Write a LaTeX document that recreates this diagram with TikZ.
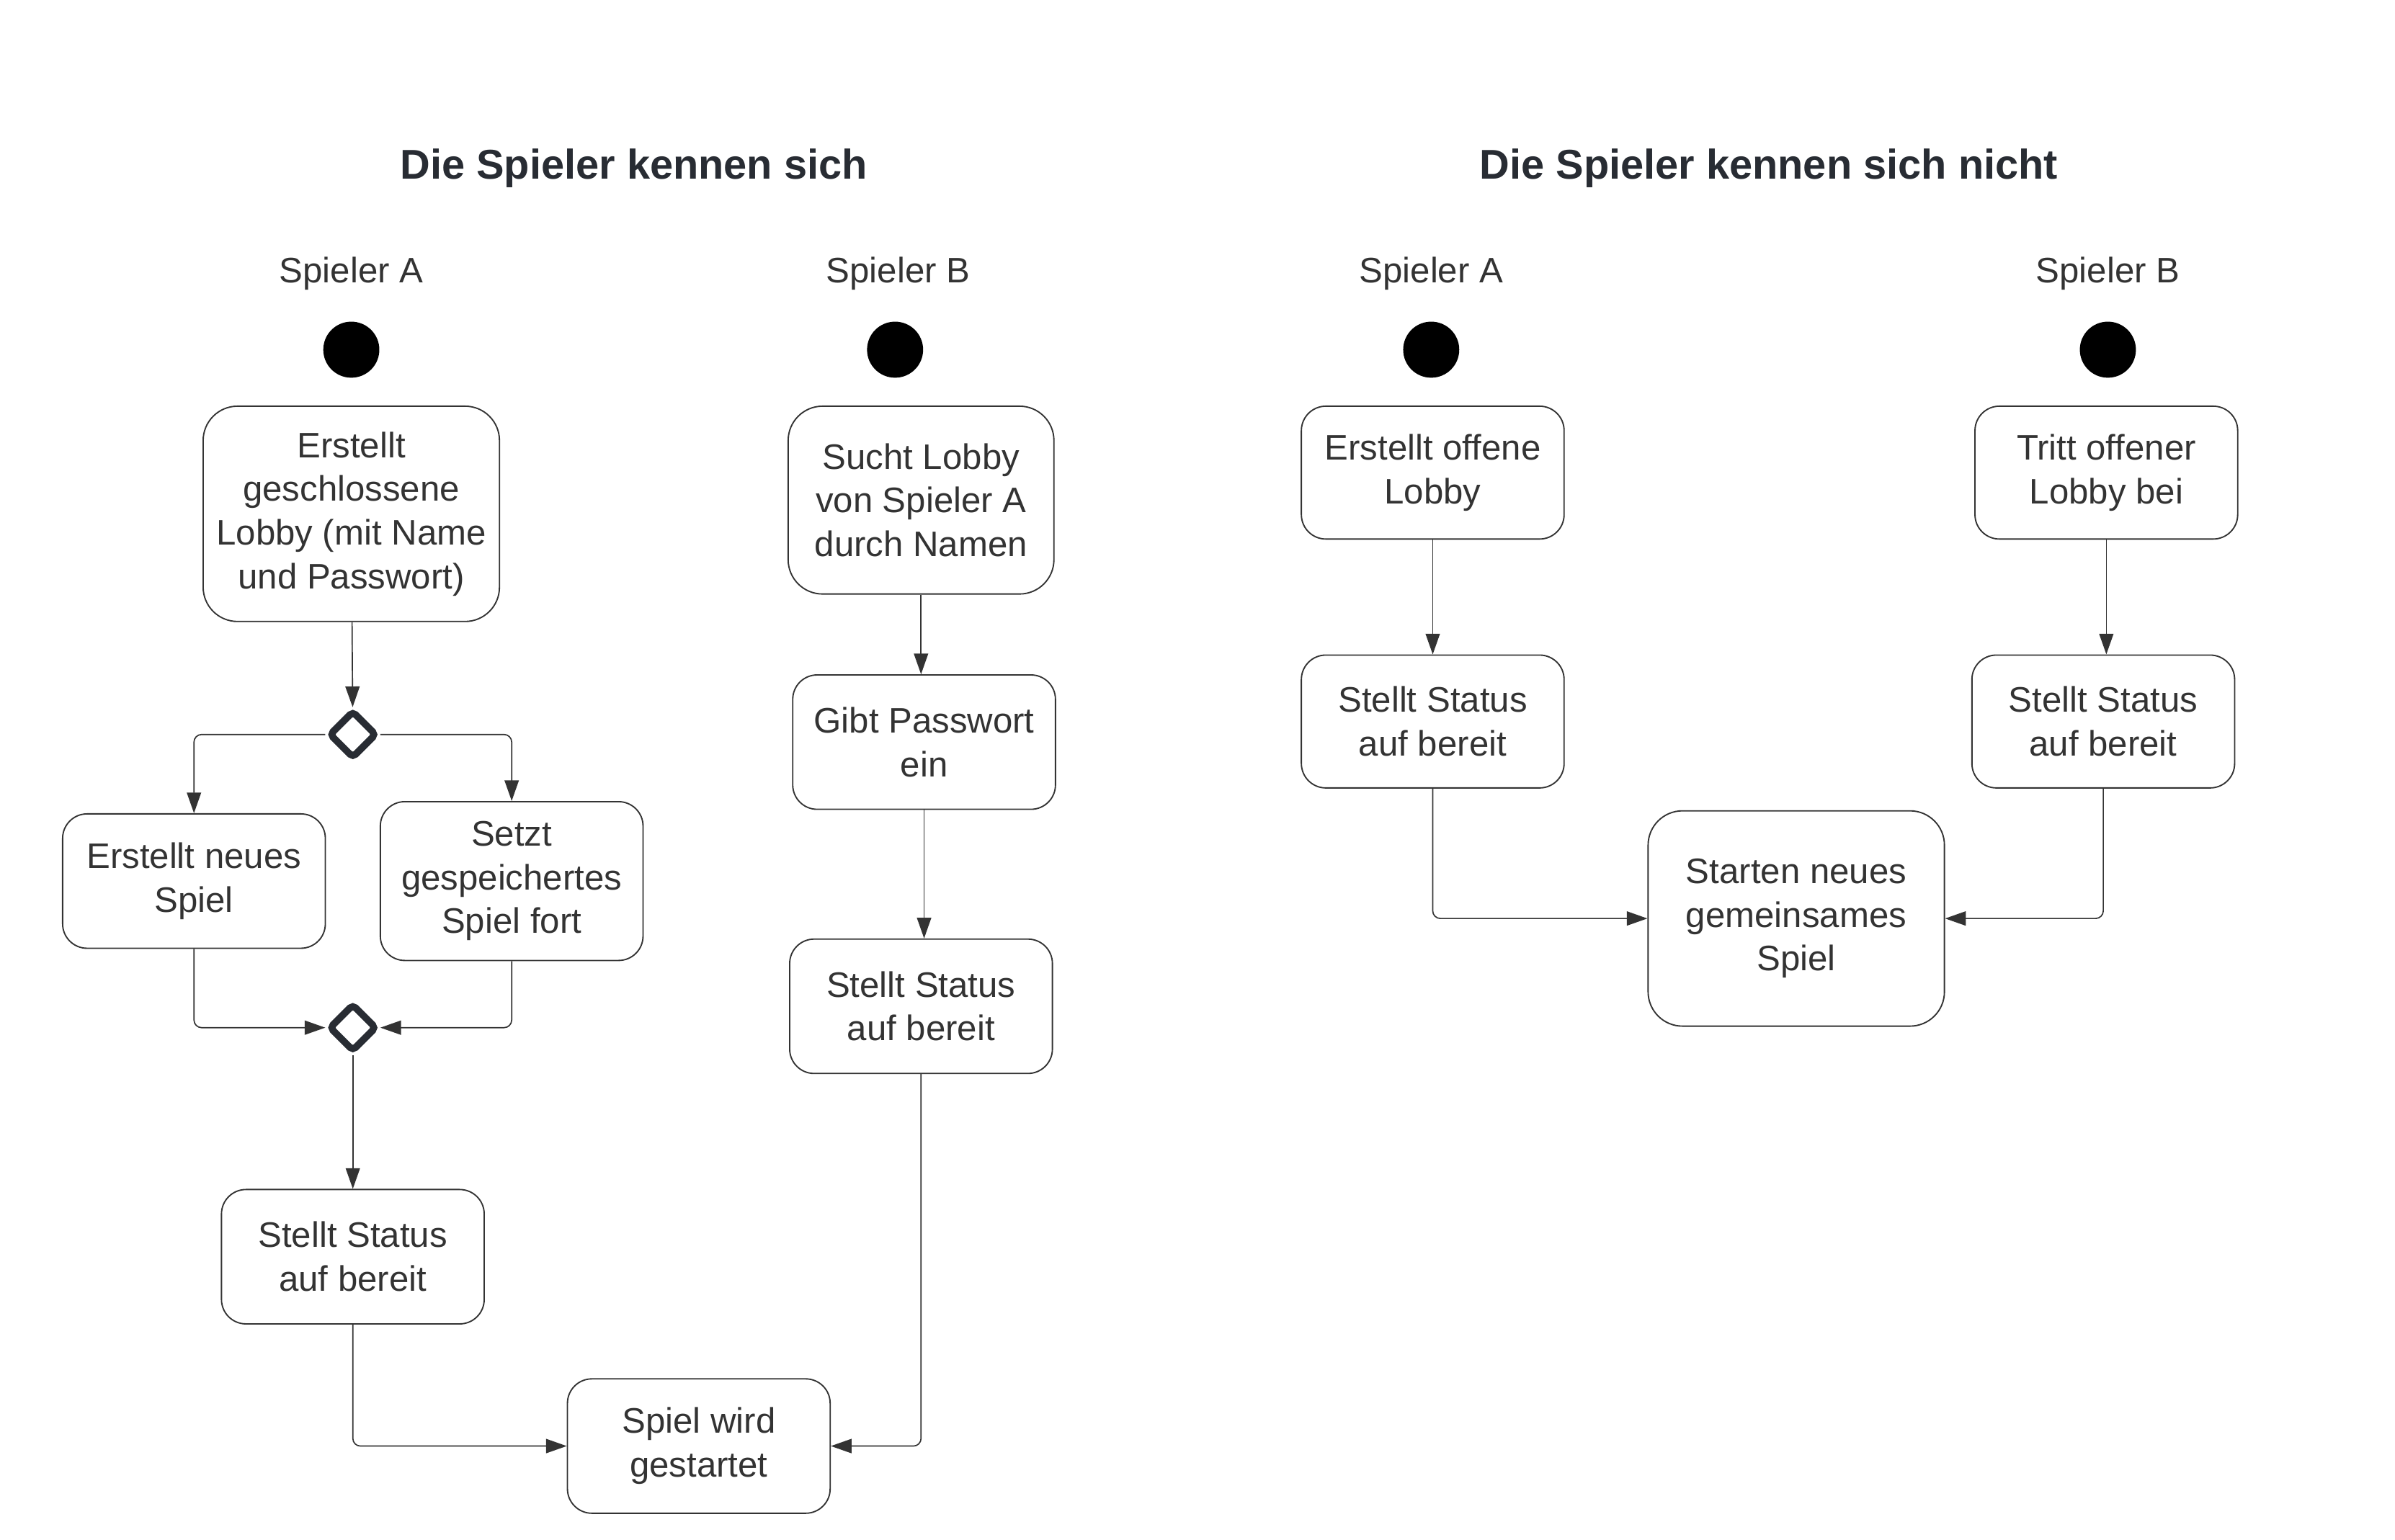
\documentclass[tikz,border=0pt]{standalone}
\usepackage{fontspec}
\setmainfont{Liberation Sans}
\usetikzlibrary{arrows.meta}
\usetikzlibrary{shapes.geometric}
\definecolor{ink}{HTML}{333333}
\definecolor{titleink}{HTML}{282C33}

\begin{document}
\begin{tikzpicture}[x=0.2mm, y=-0.2mm,
  box/.style={draw=ink, line width=0.5pt, rounded corners=0.32cm, minimum width=3.44cm, minimum height=1.76cm, inner sep=0, align=center, text=ink, font=\fontsize{13.2}{16.3}\selectfont},
  bigbox/.style={box, rounded corners=0.45cm, minimum width=3.88cm, minimum height=2.82cm},
  startdot/.style={circle, fill=black, draw=black, minimum size=0.72cm, inner sep=0},
  gate/.style={diamond, draw=titleink, line width=2.6pt, rounded corners=1.5pt, minimum width=0.63cm, minimum height=0.63cm, inner sep=0},
  flow/.style={draw=ink, line width=0.45pt, rounded corners=0.1cm, -{Triangle[length=7.7pt,width=5.3pt]}},
  heading/.style={font=\fontsize{15.5}{18}\selectfont\bfseries, text=titleink},
  lane/.style={font=\fontsize{13.2}{16}\selectfont, text=ink}]
\useasboundingbox (0,0) rectangle (1568,1008.5);
\node[heading] (titleL) at (415,110) {Die Spieler kennen sich};
\node[heading] (titleR) at (1158,110) {Die Spieler kennen sich nicht};
\foreach \x/\p/\n in {230/A/la, 588/B/lb, 937/A/ra, 1380/B/rb}
  \node[lane] (lab\n) at (\x,179) {Spieler \p};
\foreach \x/\n in {230/la, 586/lb, 937/ra, 1380/rb}
  \node[startdot] (s\n) at (\x,229) {};

% Die Spieler kennen sich
\node[bigbox] (lobbyA) at (230,336.5) {Erstellt\\geschlossene\\Lobby (mit Name\\und Passwort)};
\node[box, rounded corners=0.45cm, minimum width=3.48cm, minimum height=2.46cm] (searchB) at (603,327.5) {Sucht Lobby\\von Spieler A\\durch Namen};
\node[gate] (split) at (231,481) {};
\node[box] (newgame) at (127,577) {Erstellt neues\\Spiel};
\node[box, minimum height=2.08cm] (loadgame) at (335,577) {Setzt\\gespeichertes\\Spiel fort};
\node[gate] (merge) at (231,673) {};
\node[box] (readyA) at (231,823) {Stellt Status\\auf bereit};
\node[box] (pwB) at (605,486) {Gibt Passwort\\ein};
\node[box] (readyB) at (603,659) {Stellt Status\\auf bereit};
\node[box] (started) at (457.5,947) {Spiel wird\\gestartet};

\draw[flow] (lobbyA) -- (split);
\draw[flow] (split.west) -| (newgame.north);
\draw[flow] (split.east) -| (loadgame.north);
\draw[flow] (newgame.south) |- (merge.west);
\draw[flow] (loadgame.south) |- (merge.east);
\draw[flow] (merge) -- (readyA);
\draw[flow] (readyA.south) |- (started.west);
\draw[flow] (searchB.south) -- (searchB.south |- pwB.north);
\draw[flow] (pwB.south) -- (pwB.south |- readyB.north);
\draw[flow] (readyB.south) |- (started.east);

% Die Spieler kennen sich nicht
\node[box, minimum height=1.74cm] (openA) at (938,309.5) {Erstellt offene\\Lobby};
\node[box, minimum height=1.74cm] (joinB) at (1379,309.5) {Tritt offener\\Lobby bei};
\node[box, minimum height=1.74cm] (openReadyA) at (938,472.5) {Stellt Status\\auf bereit};
\node[box, minimum height=1.74cm] (openReadyB) at (1377,472.5) {Stellt Status\\auf bereit};
\node[bigbox] (together) at (1176,601.5) {Starten neues\\gemeinsames\\Spiel};

\draw[flow] (openA) -- (openReadyA);
\draw[flow] (joinB.south) -- (joinB.south |- openReadyB.north);
\draw[flow] (openReadyA.south) |- (together.west);
\draw[flow] (openReadyB.south) |- (together.east);
\end{tikzpicture}
\end{document}
